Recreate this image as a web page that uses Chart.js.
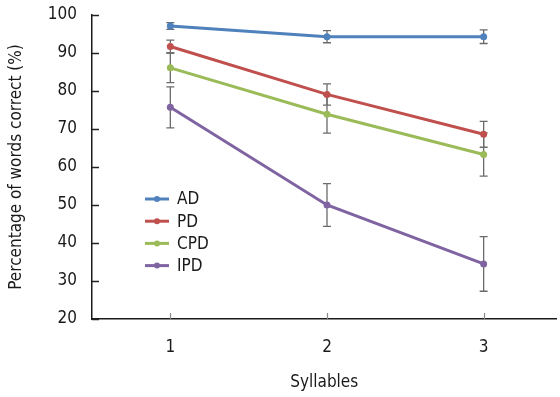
<!DOCTYPE html>
<html>
<head>
<meta charset="utf-8">
<script src="https://cdn.jsdelivr.net/npm/chart.js@4/dist/chart.umd.min.js"></script>
<style>
  html, body { margin: 0; padding: 0; background: #fff; }
  #wrap { width: 560px; height: 397px; position: relative; }
</style>
</head>
<body>
<div id="wrap"><canvas id="chart"></canvas></div>
<script>
// syllable counts on the x axis
const syllables = [1, 2, 3];
const yTicks = [20, 30, 40, 50, 60, 70, 80, 90, 100];

// mean percentage correct per group
const adMean  = [97.1, 94.3, 94.3];
const pdMean  = [91.7, 79.1, 68.6];
const cpdMean = [86.1, 73.9, 63.3];
const ipdMean = [75.7, 50.0, 34.5];

// error (+/-) per group
const adErr  = [0.9, 1.6, 1.8];
const pdErr  = [1.7, 2.8, 3.4];
const cpdErr = [3.9, 5.0, 5.7];
const ipdErr = [5.4, 5.6, 7.2];

const FONT = '"DejaVu Sans Condensed", "Liberation Sans Narrow", "Noto Sans", sans-serif';

function makeSet(label, means, errs, color) {
	return {
		label: label,
		data: syllables.map((s, i) => ({ x: s, y: means[i] })),
		errors: errs,
		borderColor: color,
		backgroundColor: color,
		borderWidth: 3,
		pointRadius: 3.5,
		pointHoverRadius: 3.5,
		pointBorderWidth: 0,
		tension: 0
	};
}

// error bars drawn through the scales, under the lines
const errorBars = {
	id: 'errorBars',
	beforeDatasetsDraw(chart) {
		const ctx = chart.ctx;
		const xs = chart.scales.x, ys = chart.scales.y;
		ctx.save();
		ctx.strokeStyle = '#6b6b6b';
		ctx.lineWidth = 1.3;
		chart.data.datasets.forEach(ds => {
			ds.data.forEach((p, i) => {
				const e = ds.errors[i];
				const px = xs.getPixelForValue(p.x);
				const top = ys.getPixelForValue(p.y + e);
				const bot = ys.getPixelForValue(p.y - e);
				ctx.beginPath();
				ctx.moveTo(px, top); ctx.lineTo(px, bot);
				ctx.moveTo(px - 4, top); ctx.lineTo(px + 4, top);
				ctx.moveTo(px - 4, bot); ctx.lineTo(px + 4, bot);
				ctx.stroke();
			});
		});
		ctx.restore();
	}
};

// inner tick marks and the legend inside the plot
const extras = {
	id: 'extras',
	afterDraw(chart) {
		const ctx = chart.ctx;
		const xs = chart.scales.x, ys = chart.scales.y;
		const area = chart.chartArea;
		ctx.save();
		ctx.strokeStyle = '#222';
		ctx.lineWidth = 1.5;
		yTicks.forEach(v => {
			const py = Math.round(ys.getPixelForValue(v)) + 0.5;
			ctx.beginPath();
			ctx.moveTo(area.left, py); ctx.lineTo(area.left + 7, py);
			ctx.stroke();
		});
		ctx.strokeStyle = '#888';
		ctx.lineWidth = 1.2;
		syllables.forEach(s => {
			const px = Math.round(xs.getPixelForValue(s)) + 0.5;
			ctx.beginPath();
			ctx.moveTo(px, area.bottom); ctx.lineTo(px, area.bottom - 6);
			ctx.stroke();
		});

		// legend
		const lx = 145, ly = 199, gap = 22.2;
		ctx.font = '17px ' + FONT;
		ctx.textBaseline = 'middle';
		ctx.textAlign = 'left';
		chart.data.datasets.forEach((ds, i) => {
			const y = ly + i * gap;
			ctx.strokeStyle = ds.borderColor;
			ctx.lineWidth = 3;
			ctx.beginPath();
			ctx.moveTo(lx, y); ctx.lineTo(lx + 24, y);
			ctx.stroke();
			ctx.fillStyle = ds.borderColor;
			ctx.beginPath();
			ctx.arc(lx + 12, y, 3, 0, Math.PI * 2);
			ctx.fill();
			ctx.fillStyle = '#1a1a1a';
			ctx.fillText(ds.label, lx + 32, y + 1);
		});
		ctx.restore();
	}
};

new Chart(document.getElementById('chart'), {
	type: 'line',
	data: {
		datasets: [
			makeSet('AD', adMean, adErr, '#4f81bd'),
			makeSet('PD', pdMean, pdErr, '#c0504d'),
			makeSet('CPD', cpdMean, cpdErr, '#9bbb59'),
			makeSet('IPD', ipdMean, ipdErr, '#8064a2')
		]
	},
	options: {
		responsive: true,
		maintainAspectRatio: false,
		animation: false,
		events: [],
		layout: { padding: { top: 15, right: 0, left: 0, bottom: 0 } },
		plugins: { legend: { display: false }, tooltip: { enabled: false } },
		scales: {
			x: {
				type: 'linear',
				min: 0.5,
				max: 3.465,
				afterBuildTicks: s => { s.ticks = syllables.map(v => ({ value: v })); },
				afterFit: s => { s.height = 78; s.paddingRight = 0; s.paddingLeft = 0; },
				grid: { display: false, drawTicks: false },
				border: { display: true, color: '#1a1a1a', width: 1.5 },
				ticks: { color: '#1a1a1a', font: { family: FONT, size: 17 }, padding: 18 },
				title: { display: true, text: 'Syllables', color: '#1a1a1a', font: { family: FONT, size: 17 }, padding: { top: 10 } }
			},
			y: {
				min: 20,
				max: 100,
				afterBuildTicks: s => { s.ticks = yTicks.map(v => ({ value: v })); },
				afterFit: s => { s.width = 92; s.paddingTop = 0; s.paddingBottom = 0; },
				grid: { display: false, drawTicks: false },
				border: { display: true, color: '#1a1a1a', width: 1.5 },
				ticks: { color: '#1a1a1a', font: { family: FONT, size: 17 }, padding: 15 },
				title: { display: true, text: 'Percentage of words correct (%)', color: '#1a1a1a', font: { family: FONT, size: 17 }, padding: { top: 6, bottom: 0 } }
			}
		}
	},
	plugins: [errorBars, extras]
});
</script>
</body>
</html>
